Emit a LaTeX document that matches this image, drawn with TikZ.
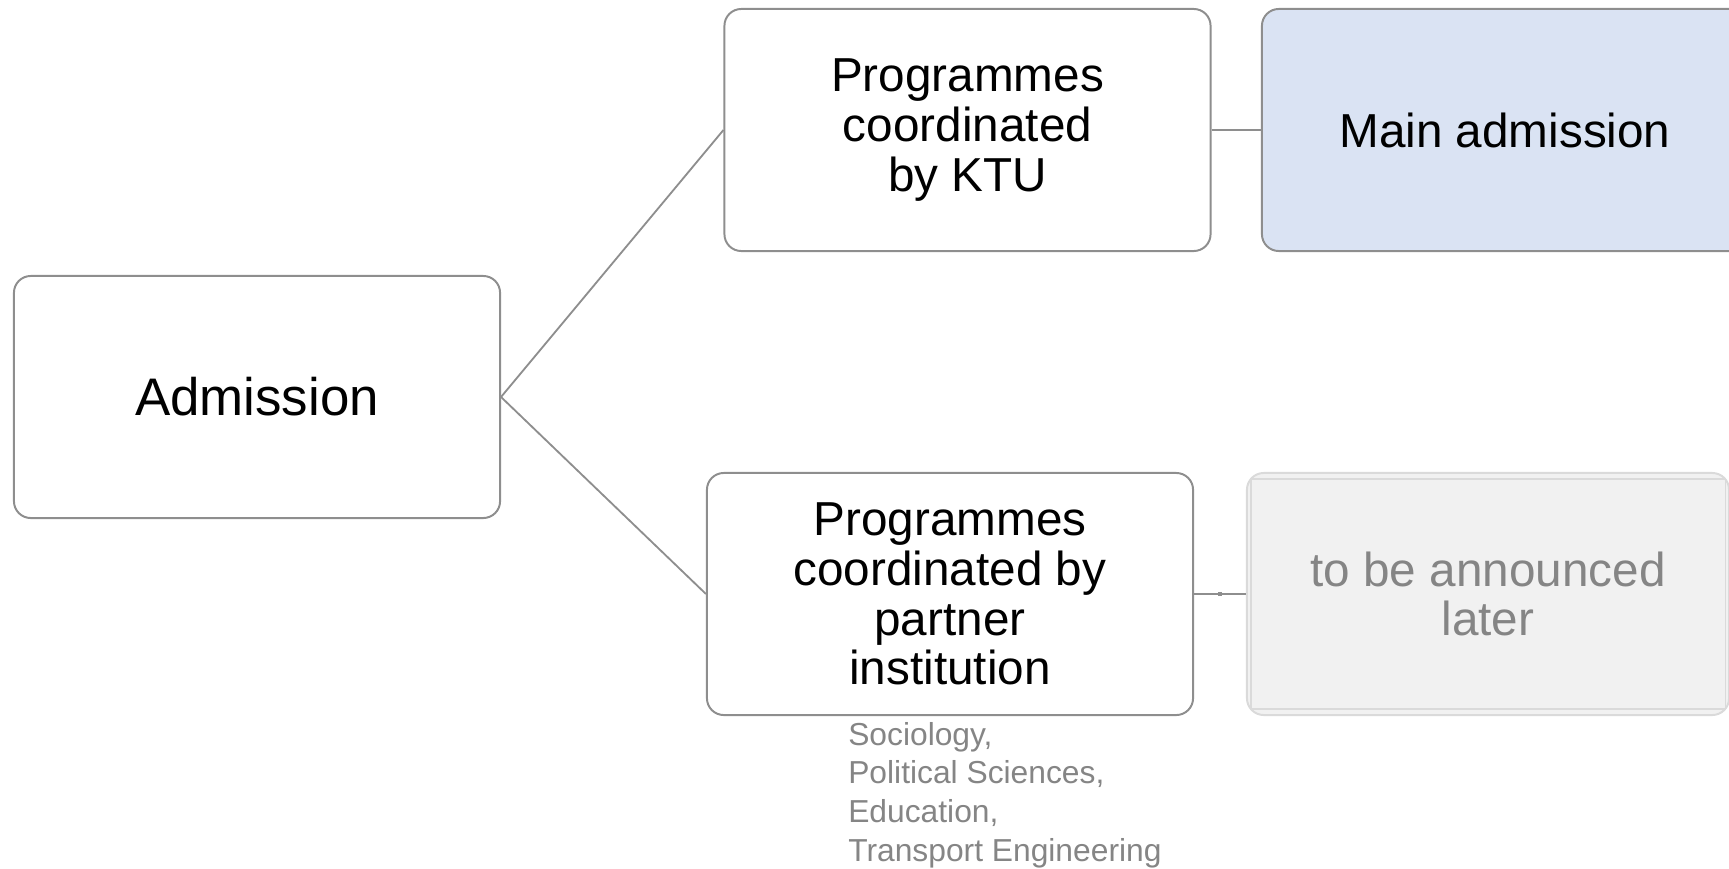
\documentclass[tikz,border=0pt]{standalone}
\usepackage{fontspec}
\setmainfont{Liberation Sans}

\definecolor{linegray}{HTML}{8E8E8E}
\definecolor{mainblue}{HTML}{DAE3F3}
\definecolor{tbafill}{HTML}{F1F1F1}
\definecolor{tbaline}{HTML}{DADADA}
\definecolor{tbatext}{HTML}{858585}

\tikzset{
  box/.style={draw=linegray, line width=1.4pt, rounded corners=0.42cm,
    minimum width=12.15cm, minimum height=6.05cm, inner sep=0pt,
    align=center, font=\fontsize{33.9}{35.4}\selectfont},
  tbabox/.style={box, draw=tbaline, fill=tbafill, text=tbatext,
    minimum width=12.05cm},
  link/.style={draw=linegray, line width=1.3pt},
  pip/.style={fill=linegray, inner sep=0pt, minimum size=3pt},
  note/.style={text=tbatext, align=left, inner sep=0pt,
    font=\fontsize{22.6}{27.5}\selectfont}
}

\begin{document}
\begin{tikzpicture}[x=0.025cm,y=-0.025cm]
\useasboundingbox (0,0) rectangle (1729,868);
\clip (0,0) rectangle (1729,868);

\node[box, font=\fontsize{37.6}{39}\selectfont] (adm) at (257,397) {Admission};

\node[box] (ktu) at (967.5,130) {Programmes\\coordinated\\by KTU};
\node[box, fill=mainblue] (main) at (1505,130) {Main admission};

\node[box] (pa) at (950,594) {Programmes\\coordinated by\\partner\\institution};
\node[tbabox] (tba) at (1488,594) {to be announced\\later};
\draw[tbaline, line width=0.8pt] ([shift={(5,7)}]tba.north west)
    rectangle ([shift={(-5,-7)}]tba.south east);

\node[note, anchor=north west] (list) at (848,722)
    {Sociology,\\Political Sciences,\\Education,\\Transport Engineering};

\draw[link] (adm.east)--(ktu.west);
\draw[link] (adm.east)--(pa.west);
\draw[link] (ktu.east)--(main.west);
\draw[link] (pa.east)-- node[pip] (mid) {} (tba.west);

\end{tikzpicture}
\end{document}
